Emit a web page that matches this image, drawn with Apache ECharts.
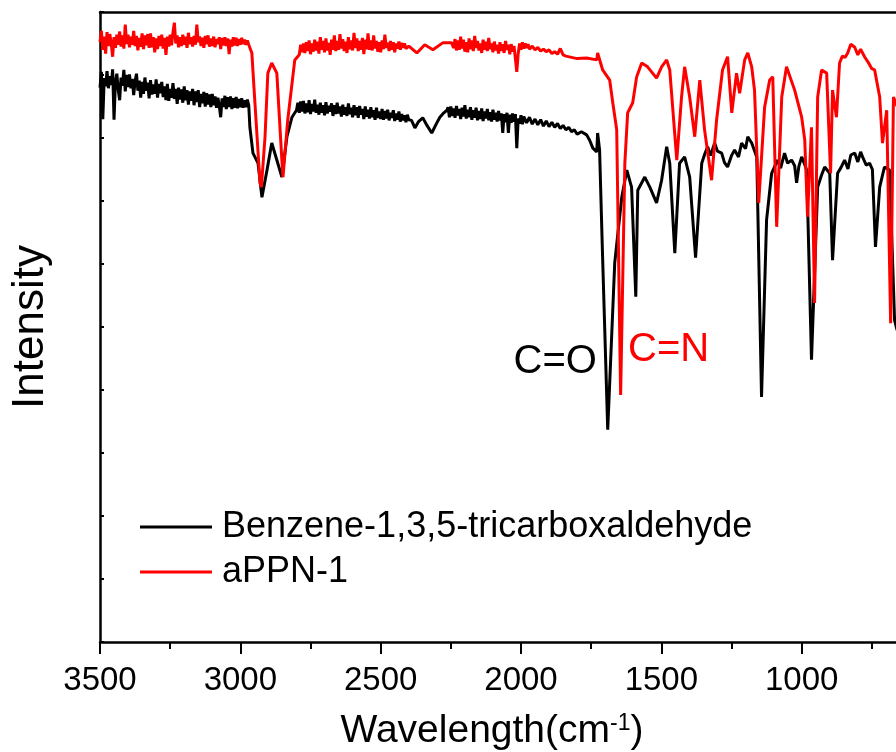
<!DOCTYPE html>
<html>
<head>
<meta charset="utf-8">
<script src="https://cdn.jsdelivr.net/npm/echarts@6/dist/echarts.min.js"></script>
<style>
html,body{margin:0;padding:0;background:#fff;}
#chart{width:896px;height:752px;}
</style>
</head>
<body>
<div id="chart"></div>
<script>
var FONT = "'Liberation Sans', Arial, sans-serif";

// 横轴刻度
var xTicks = [3500, 3000, 2500, 2000, 1500, 1000, 500];

// Benzene-1,3,5-tricarboxaldehyde  [波数, 强度]
var benzeneData = [
	[3500,88.0],[3495,90.5],[3490,83.0],[3485,89.5],[3480,88.2],[3475,90.6],[3470,87.9],[3465,89.8],[3460,88.4],[3455,90.9],
	[3450,82.9],[3445,89.0],[3440,90.2],[3435,87.6],[3430,86.0],[3425,89.6],[3420,88.3],[3415,90.8],[3410,87.4],[3405,90.0],
	[3400,88.1],[3395,90.1],[3390,87.9],[3385,89.4],[3380,86.8],[3375,89.0],[3370,90.2],[3365,87.5],[3360,89.1],[3355,86.4],
	[3350,88.9],[3345,87.0],[3340,89.6],[3335,87.5],[3330,88.8],[3325,86.3],[3320,89.2],[3315,86.9],[3310,88.5],[3305,87.0],
	[3300,89.3],[3295,86.4],[3290,88.6],[3285,87.1],[3280,88.9],[3275,86.5],[3270,88.2],[3265,86.0],[3260,88.6],[3255,85.9],
	[3250,87.8],[3245,86.4],[3240,88.7],[3235,86.2],[3230,87.8],[3225,85.4],[3220,88.0],[3215,86.1],[3210,87.7],[3205,85.6],
	[3200,88.2],[3195,86.0],[3190,87.6],[3185,85.3],[3180,87.4],[3175,85.9],[3170,87.8],[3165,85.2],[3160,87.4],[3155,85.7],
	[3150,87.6],[3145,84.9],[3140,87.0],[3135,85.5],[3130,87.3],[3125,85.0],[3120,87.1],[3115,85.3],[3110,86.9],[3105,84.9],
	[3100,87.0],[3095,85.2],[3090,86.6],[3085,84.8],[3080,86.4],[3075,85.1],[3070,83.3],[3065,86.3],[3060,84.9],[3055,86.7],
	[3050,84.6],[3045,86.5],[3040,84.9],[3035,86.6],[3030,84.6],[3025,86.3],[3020,84.8],[3015,86.5],[3010,84.7],[3005,86.2],
	[3000,84.9],[2995,86.3],[2990,84.8],[2985,86.0],[2980,84.9],[2975,86.1],[2970,85.2],
	[2966,81.7],[2955,77.6],[2937,76.0],[2923,70.6],[2905,74.9],[2888,79.2],[2870,76.5],[2852,73.8],[2834,80.2],[2816,83.3],
	[2800,84.4],[2795,85.6],[2790,84.0],[2785,85.8],[2780,84.2],[2775,85.9],[2770,83.9],[2765,85.5],[2760,84.1],[2755,86.0],
	[2750,83.8],[2745,85.4],[2740,84.2],[2735,86.1],[2730,84.0],[2725,85.3],[2720,83.7],[2715,85.6],[2710,84.0],[2705,85.2],
	[2700,83.6],[2695,85.7],[2690,83.9],[2685,85.1],[2680,84.2],[2675,85.5],[2670,83.5],[2665,85.2],[2660,83.8],[2655,85.6],
	[2650,83.9],[2645,85.0],[2640,83.4],[2635,85.3],[2630,83.7],[2625,84.9],[2620,83.5],[2615,85.5],[2610,83.8],[2605,84.8],
	[2600,83.3],[2595,85.2],[2590,83.6],[2585,84.9],[2580,83.2],[2575,85.1],[2570,83.7],[2565,84.6],[2560,83.0],[2555,85.0],
	[2550,83.4],[2545,84.5],[2540,83.1],[2535,84.9],[2530,83.3],[2525,84.4],[2520,82.9],[2515,84.8],[2510,83.2],[2505,84.2],
	[2500,83.0],[2495,84.6],[2490,82.9],[2485,84.3],[2480,83.1],[2475,84.5],[2470,82.8],[2465,84.0],[2460,83.2],[2455,84.4],
	[2450,82.7],[2445,83.9],[2440,82.9],[2435,84.2],[2430,82.6],[2425,83.8],[2420,82.8],[2415,83.6],[2410,82.5],[2405,83.7],
	[2400,82.9],[2390,82.8],[2378,81.6],[2365,82.6],[2350,83.2],[2335,82.0],[2318,80.8],[2300,82.4],[2289,83.3],[2275,84.0],
	[2264,84.4],[2260,84.9],[2255,83.3],[2250,85.0],[2245,83.5],[2240,84.7],[2235,83.2],[2230,85.1],[2225,83.6],[2220,84.6],
	[2215,83.0],[2210,84.8],[2205,83.4],[2200,85.2],[2195,83.1],[2190,84.5],[2185,83.3],[2180,84.9],[2175,82.9],[2170,84.4],
	[2165,83.2],[2160,84.8],[2155,82.8],[2150,84.3],[2145,83.0],[2140,84.7],[2135,82.7],[2130,84.2],[2125,83.1],[2120,84.6],
	[2115,82.8],[2110,84.1],[2105,82.6],[2100,84.5],[2095,82.9],[2090,84.0],[2085,82.6],[2080,84.3],[2075,82.8],[2070,83.9],
	[2065,80.8],[2060,83.8],[2055,82.5],[2050,84.0],[2045,80.8],[2040,83.7],[2035,82.4],[2030,83.9],[2025,82.6],[2020,83.8],
	[2015,78.4],[2010,83.1],[2005,82.3],[2000,83.6],[1995,82.2],[1990,83.4],[1980,82.4],[1970,83.3],[1960,82.2],[1950,83.0],
	[1940,82.1],[1930,82.9],[1920,81.9],[1910,82.7],[1900,81.8],[1890,82.5],[1880,81.7],[1870,82.3],[1860,81.5],[1850,82.0],
	[1840,81.3],[1830,81.7],[1820,81.0],[1810,81.3],[1800,80.6],[1785,81.0],[1766,80.5],[1755,79.6],[1744,78.4],[1730,77.8],
	[1727,80.8],[1720,78.1],[1710,62.2],[1691,33.7],[1666,60.2],[1641,70.6],[1623,74.9],[1606,72.2],[1591,54.8],[1584,71.7],
	[1559,73.8],[1541,72.2],[1517,69.7],[1499,73.3],[1481,78.6],[1470,76.0],[1452,61.7],[1435,76.0],[1417,77.0],[1399,73.8],
	[1378,61.0],[1356,76.0],[1345,77.5],[1335,78.6],[1325,77.2],[1310,79.2],[1300,77.9],[1285,77.6],[1275,76.1],[1264,75.4],
	[1250,77.2],[1239,78.1],[1225,77.0],[1214,79.2],[1200,78.3],[1192,80.2],[1178,79.2],[1160,77.0],[1143,38.9],[1125,67.0],
	[1107,74.4],[1086,76.5],[1075,75.2],[1061,77.6],[1050,76.0],[1036,76.5],[1025,75.6],[1018,72.9],[1010,75.5],[1000,77.0],
	[990,75.9],[982,74.9],[965,44.8],[943,72.2],[930,74.0],[918,75.4],[900,74.4],[890,60.6],[872,74.4],[860,75.3],
	[847,76.5],[835,75.1],[825,77.3],[811,77.6],[800,76.2],[790,77.8],[783,77.0],[770,75.7],[758,76.0],[748,75.0],
	[737,62.7],[722,72.2],[705,75.4],[687,74.9],[669,51.1],[660,49.5]
];

// aPPN-1  [波数, 强度]
var appnData = [
	[3500,95.2],[3495,97.0],[3490,94.0],[3485,96.1],[3480,93.4],[3475,96.8],[3470,94.6],[3465,96.5],[3460,95.0],[3455,92.9],
	[3450,96.0],[3445,94.3],[3440,96.4],[3435,94.8],[3430,96.9],[3425,94.5],[3420,96.3],[3415,94.2],[3410,98.0],[3405,94.9],
	[3400,96.4],[3395,94.4],[3390,96.1],[3385,94.8],[3380,97.0],[3375,94.6],[3370,96.2],[3365,93.9],[3360,95.9],[3355,94.5],
	[3350,96.6],[3345,94.1],[3340,96.3],[3335,94.7],[3330,96.5],[3325,94.3],[3320,96.6],[3315,94.4],[3310,96.0],[3305,93.6],
	[3300,95.8],[3295,94.1],[3290,96.2],[3285,94.6],[3280,96.4],[3275,94.2],[3270,95.9],[3265,93.2],[3260,96.1],[3255,94.5],
	[3250,96.4],[3245,94.7],[3240,96.8],[3235,98.3],[3230,95.0],[3225,96.3],[3220,94.4],[3215,96.0],[3210,94.6],[3205,96.4],
	[3200,94.8],[3195,96.1],[3190,94.3],[3185,96.7],[3180,94.9],[3175,96.0],[3170,94.5],[3165,96.2],[3160,94.8],[3155,98.0],
	[3150,95.2],[3145,96.1],[3140,94.6],[3135,95.9],[3130,94.3],[3125,96.2],[3120,94.9],[3115,96.3],[3110,94.5],[3105,95.8],
	[3100,94.6],[3095,96.1],[3090,94.4],[3085,95.7],[3080,94.9],[3075,96.0],[3070,94.1],[3065,95.9],[3060,94.7],[3055,96.0],
	[3050,94.6],[3045,95.8],[3040,93.3],[3035,95.6],[3030,94.5],[3025,96.0],[3020,94.7],[3015,95.9],[3010,94.6],[3005,95.7],
	[3000,94.8],[2995,95.9],[2990,94.9],[2985,95.6],[2980,94.8],[2975,95.5],[2970,94.8],
	[2959,93.5],[2948,85.6],[2930,72.9],[2925,72.2],[2912,80.2],[2902,90.3],[2888,91.9],[2870,90.3],[2852,76.5],[2848,73.8],
	[2831,82.9],[2806,92.4],[2790,93.2],[2785,94.8],[2780,93.6],[2775,95.0],[2770,93.5],[2765,95.2],[2760,93.8],[2755,95.5],
	[2750,93.3],[2745,95.0],[2740,93.7],[2735,95.6],[2730,93.9],[2725,95.3],[2720,93.4],[2715,96.0],[2710,94.0],[2705,95.4],
	[2700,93.6],[2695,95.8],[2690,93.9],[2685,95.1],[2680,93.2],[2675,95.6],[2670,94.0],[2665,96.3],[2660,93.8],[2655,95.4],
	[2650,94.0],[2645,96.5],[2640,94.2],[2635,95.7],[2630,93.8],[2625,95.3],[2620,93.5],[2615,96.0],[2610,94.1],[2605,95.5],
	[2600,93.9],[2595,96.7],[2590,94.3],[2585,95.8],[2580,93.8],[2575,95.4],[2570,94.0],[2565,95.9],[2560,93.3],[2555,95.6],
	[2550,94.1],[2545,96.6],[2540,94.0],[2535,95.5],[2530,93.9],[2525,96.3],[2520,94.2],[2515,95.4],[2510,93.7],[2505,95.2],
	[2500,93.6],[2495,95.5],[2490,94.1],[2485,96.4],[2480,94.3],[2475,95.1],[2470,93.8],[2465,95.4],[2460,94.0],[2455,95.2],
	[2450,93.6],[2445,95.0],[2440,94.2],[2435,95.3],[2430,94.0],[2425,95.1],[2420,94.3],[2415,95.0],[2410,94.2],[2400,94.6],
	[2396,94.4],[2371,93.5],[2343,94.8],[2314,94.0],[2279,95.1],[2247,95.1],[2240,94.3],[2235,95.7],[2230,93.9],[2225,95.5],
	[2220,94.0],[2215,96.1],[2210,94.2],[2205,95.6],[2200,93.7],[2195,95.2],[2190,93.6],[2185,95.8],[2180,94.1],[2175,95.5],
	[2170,93.8],[2165,96.2],[2160,94.3],[2155,95.4],[2150,93.9],[2145,95.0],[2140,93.5],[2135,95.6],[2130,94.0],[2125,95.3],
	[2120,93.8],[2115,95.9],[2110,94.1],[2105,95.0],[2100,93.6],[2095,95.3],[2090,93.9],[2085,94.8],[2080,93.4],[2075,95.2],
	[2070,93.8],[2065,94.9],[2060,93.5],[2055,95.4],[2050,94.0],[2045,94.8],[2040,93.3],[2035,94.9],[2030,93.7],[2025,94.6],
	[2020,92.6],[2015,90.5],[2010,93.4],[2005,95.0],[2000,94.0],[1995,95.2],[1990,94.2],[1985,95.0],[1980,94.3],[1975,94.9],
	[1970,94.1],[1960,94.6],[1950,94.0],[1940,94.4],[1930,93.8],[1920,94.1],[1910,93.7],[1900,94.0],[1890,93.4],[1880,93.7],
	[1870,93.3],[1860,94.2],[1850,93.2],[1840,93.0],[1820,92.8],[1800,92.6],[1766,92.7],[1730,92.4],[1727,93.5],[1709,90.8],
	[1684,89.2],[1673,85.6],[1659,81.3],[1645,39.2],[1630,76.0],[1620,84.0],[1602,85.6],[1588,89.7],[1570,91.9],[1549,91.3],
	[1517,89.5],[1499,91.3],[1481,92.4],[1470,90.8],[1445,76.5],[1428,86.5],[1417,91.3],[1399,86.5],[1381,80.2],[1363,89.2],
	[1346,81.3],[1321,73.3],[1303,82.9],[1282,90.8],[1264,92.9],[1249,84.0],[1232,90.3],[1221,87.1],[1203,92.4],[1192,93.5],
	[1178,91.3],[1168,87.6],[1153,69.7],[1132,84.9],[1114,89.2],[1103,89.7],[1089,65.9],[1071,86.5],[1054,91.3],[1025,87.6],
	[1000,83.3],[989,79.7],[979,67.5],[965,81.7],[954,53.8],[943,86.5],[929,90.8],[911,90.3],[897,74.4],[890,87.6],
	[876,83.3],[865,91.9],[855,93.0],[845,92.8],[836,93.5],[825,94.9],[811,94.4],[800,93.2],[790,94.1],[776,92.9],
	[760,91.8],[750,91.0],[740,90.8],[722,86.5],[712,79.2],[697,84.4],[683,50.6],[673,86.5],[660,85.0]
];

// 峰位标注
var noteNames = ["C=O", "C=N"];
var notePoints = [[1878, 44.4], [1474, 46.3]];
var noteColors = ["#000000", "#ff0000"];

var myChart;

function buildnotes(){
	var list = [];
	for(var i=0; i<noteNames.length; i++){
		list.push({
			name: noteNames[i],
			value: notePoints[i],
			itemStyle: {color: noteColors[i], opacity: 1},
			label: {color: noteColors[i]}
		});
	}
	return list;
}

function drawchart(){
	myChart = echarts.init(document.getElementById('chart'), null, {renderer: 'canvas'});
	var option = {
		animation: false,
		backgroundColor: '#ffffff',
		textStyle: {fontFamily: FONT},
		// 画布只显示到约 665 cm-1，网格向右延伸出画布
		grid: {left: 100, top: 12, height: 630, width: 842, containLabel: false, outerBoundsMode: 'none'},
		legend: {
			orient: 'vertical',
			left: 135,
			top: 502,
			itemWidth: 72,
			itemHeight: 3,
			itemGap: 5,
			icon: 'rect',
			data: ['Benzene-1,3,5-tricarboxaldehyde', 'aPPN-1'],
			textStyle: {fontSize: 36, color: '#000', fontFamily: FONT, lineHeight: 40, padding: [0, 0, 0, 5]}
		},
		xAxis: [{
			type: 'value',
			inverse: true,
			min: 500,
			max: 3500,
			interval: 500,
			position: 'bottom',
			name: 'Wavelength(cm{sup|-1})',
			nameLocation: 'middle',
			nameGap: 70,
			nameMoveOverlap: false,
			nameTextStyle: {
				fontSize: 39, color: '#000', fontFamily: FONT, padding: [0, 58, 0, 0],
				rich: {sup: {fontSize: 23, color: '#000', fontFamily: FONT, verticalAlign: 'top', padding: [0, 0, 14, 0]}}
			},
			axisLine: {lineStyle: {color: '#000', width: 2.5}},
			axisTick: {inside: false, length: 12, lineStyle: {color: '#000', width: 2}},
			minorTick: {show: true, splitNumber: 2, length: 7, lineStyle: {color: '#000', width: 2}},
			axisLabel: {
				fontSize: 33, color: '#000', fontFamily: FONT, margin: 22,
				formatter: function(v){ return xTicks.indexOf(v) > -1 ? String(v) : ''; }
			},
			splitLine: {show: false}
		}, {
			type: 'value',
			inverse: true,
			min: 500,
			max: 3500,
			interval: 500,
			position: 'top',
			axisLine: {lineStyle: {color: '#000', width: 2.5}},
			axisTick: {show: false},
			axisLabel: {show: false},
			splitLine: {show: false}
		}],
		yAxis: {
			type: 'value',
			min: 0,
			max: 100,
			interval: 10,
			name: 'Intensity',
			nameLocation: 'middle',
			nameGap: 47,
			nameMoveOverlap: false,
			nameTextStyle: {fontSize: 44, color: '#000', fontFamily: FONT},
			axisLine: {show: true, lineStyle: {color: '#000', width: 2.5}},
			axisTick: {show: true, inside: true, length: 4, lineStyle: {color: '#000', width: 2}},
			axisLabel: {show: false},
			splitLine: {show: false}
		},
		series: [{
			name: 'Benzene-1,3,5-tricarboxaldehyde',
			type: 'line',
			data: benzeneData,
			showSymbol: false,
			symbol: 'none',
			color: '#000000',
			lineStyle: {color: '#000000', width: 3}
		}, {
			name: 'aPPN-1',
			type: 'line',
			data: appnData,
			showSymbol: false,
			symbol: 'none',
			color: '#ff0000',
			lineStyle: {color: '#ff0000', width: 3}
		}, {
			name: 'notes',
			type: 'scatter',
			data: buildnotes(),
			symbolSize: 0.1,
			silent: true,
			label: {show: true, opacity: 1, position: [0, 0], align: 'center', verticalAlign: 'middle', formatter: '{b}', fontSize: 40, fontFamily: FONT}
		}]
	};
	myChart.setOption(option);
}

drawchart();
</script>
</body>
</html>
